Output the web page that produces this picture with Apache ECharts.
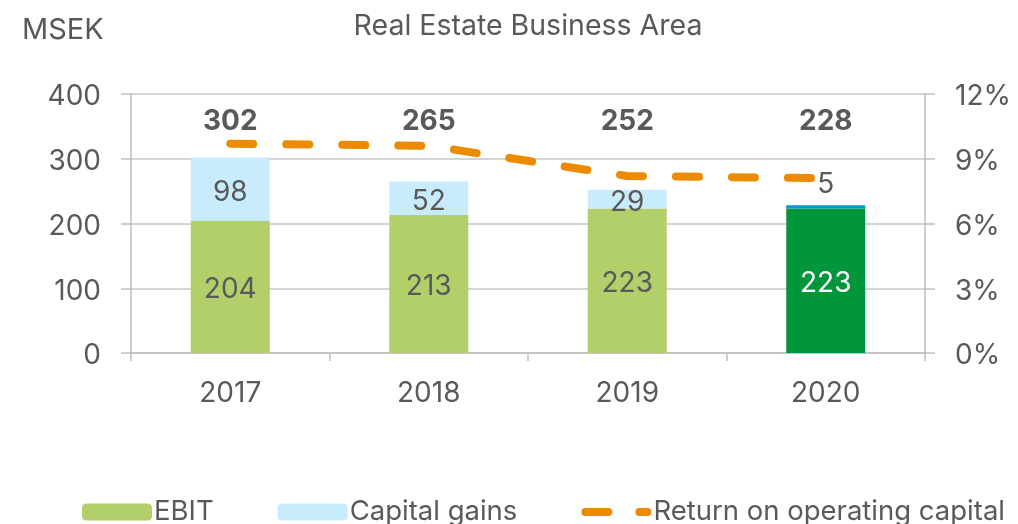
<!DOCTYPE html>
<html>
<head>
<meta charset="utf-8">
<script src="https://cdn.jsdelivr.net/npm/echarts@6/dist/echarts.min.js"></script>
<style>
html,body{margin:0;padding:0;background:#fff;}
#chart{width:1018px;height:524px;}
</style>
</head>
<body>
<div id="chart"></div>
<script>
const categories = ['2017', '2018', '2019', '2020'];
const ebit = [204, 213, 223, 223];
const capitalGains = [98, 52, 29, 5];
const totals = [302, 265, 252, 228];
const returnOnCapital = [9.7, 9.6, 8.2, 8.1];
const leftTicks = { min: 0, max: 400, interval: 100 };
const rightTicks = { min: 0, max: 12, interval: 3 };

const FONT = 'Inter, "Noto Sans", sans-serif';
const TXT = '#595959';
const HIGHLIGHT = 3;
const TOTAL_LEVEL = 357;

const chart = echarts.init(document.getElementById('chart'), null, { renderer: 'canvas' });

const ebitData = ebit.map((v, i) => i === HIGHLIGHT
  ? { value: v, itemStyle: { color: '#009639' }, label: { color: '#ffffff' } }
  : v);
const gainsData = capitalGains.map((v, i) => i === HIGHLIGHT
  ? { value: v, itemStyle: { color: '#0095d5' }, label: { position: 'top', distance: 7, offset: [0, 0] } }
  : v);

const dashIcon = 'path://M0,0M70,17M4,4.5L27,4.5A4,4,0,0,1,27,12.5L4,12.5A4,4,0,0,1,4,4.5ZM58,4.5L66,4.5A4,4,0,0,1,66,12.5L58,12.5A4,4,0,0,1,58,4.5Z';

const axisRich = { a: { fontSize: 28, color: TXT, fontFamily: FONT, padding: [6, 0, 0, 0] } };

chart.setOption({
  animation: false,
  textStyle: { fontFamily: FONT },
  grid: { left: 131, right: 93, top: 94, bottom: 171, containLabel: false },
  graphic: [
    { type: 'text', left: 22, top: 16, style: { text: 'MSEK', font: '29px ' + FONT, fill: TXT } },
    { type: 'text', x: 528, y: 26, style: { text: 'Real Estate Business Area', font: '28.5px ' + FONT, fill: TXT, align: 'center', verticalAlign: 'middle' } }
  ],
  legend: {
    data: ['EBIT', 'Capital gains', { name: 'Return on operating capital', icon: dashIcon, itemStyle: { borderWidth: 0, color: '#ec8b00' } }],
    left: 77, top: 493,
    itemWidth: 70, itemHeight: 17, itemGap: 64,
    textStyle: { fontFamily: FONT, fontSize: 27.5, color: TXT, padding: [0, 0, 0, -3] }
  },
  xAxis: {
    type: 'category', data: categories,
    axisLine: { lineStyle: { color: '#bfbfbf', width: 1.5 } },
    axisTick: { show: true, alignWithLabel: false, length: 8, lineStyle: { color: '#bfbfbf', width: 1.5 } },
    axisLabel: { fontSize: 28, color: TXT, margin: 27, fontFamily: FONT }
  },
  yAxis: [
    {
      type: 'value', min: leftTicks.min, max: leftTicks.max, interval: leftTicks.interval,
      axisLine: { show: true, lineStyle: { color: '#bfbfbf', width: 1.5 } },
      axisTick: { show: true, length: 10, lineStyle: { color: '#bfbfbf', width: 1.5 } },
      splitLine: { lineStyle: { color: '#c6c6c6', width: 1.5 } },
      axisLabel: { margin: 30, formatter: v => '{a|' + v + '}', rich: axisRich }
    },
    {
      type: 'value', min: rightTicks.min, max: rightTicks.max, interval: rightTicks.interval,
      axisLine: { show: true, lineStyle: { color: '#bfbfbf', width: 1.5 } },
      axisTick: { show: true, length: 10, lineStyle: { color: '#bfbfbf', width: 1.5 } },
      splitLine: { show: false },
      axisLabel: { margin: 30, formatter: v => '{a|' + v + '%}', rich: axisRich }
    }
  ],
  series: [
    {
      name: 'EBIT', type: 'bar', stack: 'a', barWidth: 79, data: ebitData,
      itemStyle: { color: '#b3cf6a' },
      label: { show: true, position: 'inside', fontSize: 28, color: TXT, fontFamily: FONT, offset: [0, 3] }
    },
    {
      name: 'Capital gains', type: 'bar', stack: 'a', barWidth: 79, data: gainsData,
      itemStyle: { color: '#c8ecfc' },
      label: { show: true, position: 'inside', fontSize: 28, color: TXT, fontFamily: FONT, offset: [0, 3] }
    },
    {
      name: 'Return on operating capital', type: 'line', yAxisIndex: 1, data: returnOnCapital,
      symbol: 'none', z: 5,
      itemStyle: { color: '#ec8b00' },
      lineStyle: { color: '#ec8b00', width: 8, type: [23, 33], cap: 'round' }
    },
    {
      name: 'totals', type: 'custom', data: totals, z: 6,
      renderItem: function (params, api) {
        const p = api.coord([params.dataIndex, TOTAL_LEVEL]);
        return {
          type: 'text', x: p[0], y: p[1],
          style: { text: String(totals[params.dataIndex]), font: 'bold 28px ' + FONT, fill: TXT, align: 'center', verticalAlign: 'middle' }
        };
      }
    }
  ]
});
</script>
</body>
</html>
